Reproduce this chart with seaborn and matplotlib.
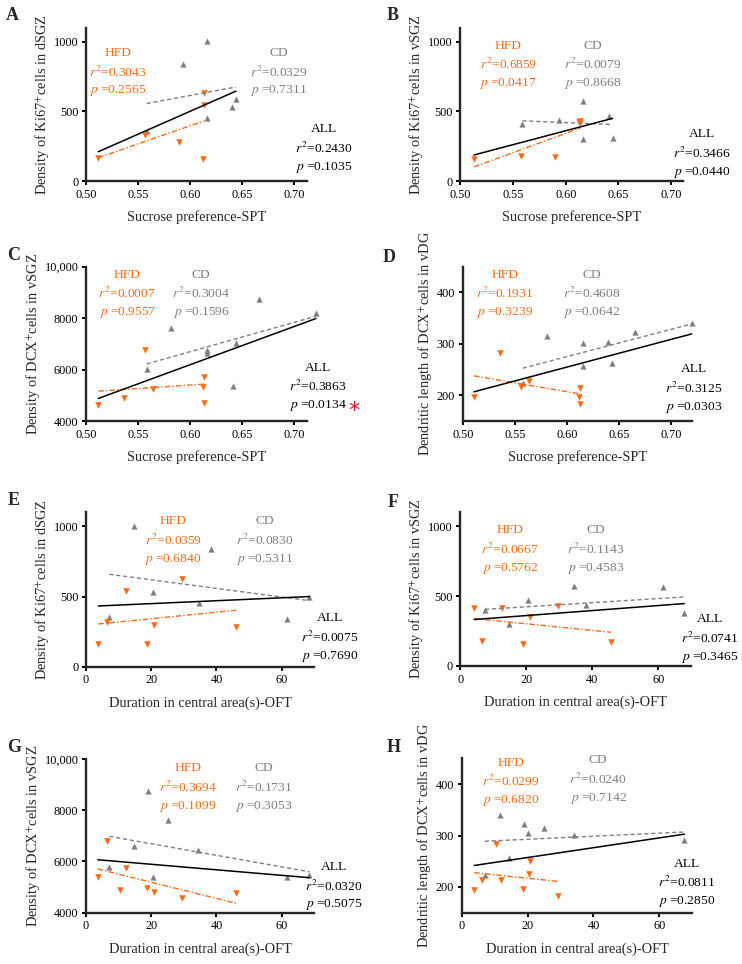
import numpy as np
import pandas as pd
import matplotlib
matplotlib.use("Agg")
import matplotlib.pyplot as plt
import seaborn as sns

ORANGE = "#FF6A13"
GRAY = "#7F7F7F"

# ---- data ----
# SPT panels (A-D)
A_cd_x = [0.5582, 0.5928, 0.6158, 0.6162, 0.6402, 0.6440]
A_cd_y = [361, 840, 1005, 454, 533, 589]
A_hfd_x = [0.5118, 0.5570, 0.5893, 0.6126, 0.6136, 0.6136]
A_hfd_y = [167, 328, 282, 160, 546, 634]

B_cd_x = [0.5589, 0.5934, 0.6161, 0.6165, 0.6408, 0.6445]
B_cd_y = [407, 438, 301, 572, 469, 311]
B_hfd_x = [0.5130, 0.5573, 0.5899, 0.6126, 0.6136, 0.6136]
B_hfd_y = [160, 179, 172, 422, 414, 431]

C_cd_x = [0.5582, 0.5819, 0.6165, 0.6165, 0.6408, 0.6443, 0.6663, 0.7208]
C_cd_y = [6033, 7604, 6760, 6632, 5372, 7044, 8732, 8187]
C_hfd_x = [0.5118, 0.5362, 0.5570, 0.5643, 0.6126, 0.6131, 0.6131]
C_hfd_y = [4622, 4894, 6760, 5244, 5334, 5699, 4712]

D_cd_x = [0.5576, 0.5810, 0.6152, 0.6155, 0.6395, 0.6433, 0.6657, 0.7198]
D_cd_y = [223, 315, 257, 302, 304, 263, 323, 340]
D_hfd_x = [0.5108, 0.5355, 0.5560, 0.5634, 0.6120, 0.6129, 0.6129]
D_hfd_y = [197, 283, 216, 227, 196, 215, 183]

# OFT panels (E-H)
E_cd_x = [7.15, 14.7, 20.4, 34.7, 38.3, 61.7, 68.5]
E_cd_y = [357, 1000, 529, 453, 838, 338, 496]
E_hfd_x = [3.8, 6.3, 12.3, 18.6, 20.9, 29.3, 46.0]
E_hfd_y = [160, 321, 541, 162, 298, 624, 281]

F_cd_x = [7.5, 14.8, 20.5, 34.5, 38.1, 61.4, 67.9]
F_cd_y = [402, 299, 469, 569, 438, 565, 378]
F_hfd_x = [4.2, 6.7, 12.5, 18.9, 21.2, 29.5, 45.7]
F_hfd_y = [414, 179, 414, 156, 354, 431, 170]

G_cd_x = [7.15, 14.6, 19.1, 20.4, 25.1, 34.4, 61.7, 68.5]
G_cd_y = [5796, 6604, 8752, 5382, 7620, 6448, 5406, 5472]
G_hfd_x = [3.6, 6.3, 10.4, 12.2, 18.6, 20.9, 29.3, 46.0]
G_hfd_y = [5406, 6800, 4886, 5734, 4953, 4797, 4562, 4781]

H_cd_x = [7.0, 11.7, 14.4, 18.8, 20.1, 24.9, 34.1, 67.6]
H_cd_y = [223, 340, 257, 323, 304, 314, 301, 291]
H_hfd_x = [3.8, 6.2, 10.4, 11.9, 18.5, 20.3, 20.7, 29.1]
H_hfd_y = [195, 214, 283, 214, 197, 226, 250, 183]

# stats printed on each panel: (r2, p) for HFD, CD, ALL
hfd_stats = [("0.3043", "0.2565"), ("0.6859", "0.0417"), ("0.0007", "0.9557"), ("0.1931", "0.3239"),
             ("0.0359", "0.6840"), ("0.0667", "0.5762"), ("0.3694", "0.1099"), ("0.0299", "0.6820")]
cd_stats = [("0.0329", "0.7311"), ("0.0079", "0.8668"), ("0.3004", "0.1596"), ("0.4608", "0.0642"),
            ("0.0830", "0.5311"), ("0.1143", "0.4583"), ("0.1731", "0.3053"), ("0.0240", "0.7142")]
all_stats = [("0.2430", "0.1035"), ("0.3466", "0.0440"), ("0.3863", "0.0134"), ("0.3125", "0.0303"),
             ("0.0075", "0.7690"), ("0.0741", "0.3465"), ("0.0320", "0.5075"), ("0.0811", "0.2850")]

letters = ["A", "B", "C", "D", "E", "F", "G", "H"]
xlabel_spt = "Sucrose preference-SPT"
xlabel_oft = "Duration in central area(s)-OFT"
ylabels = ["Density of Ki67$^{+}$cells in dSGZ", "Density of Ki67$^{+}$cells in vSGZ",
           "Density of DCX$^{+}$cells in vSGZ", "Dendritic length of DCX$^{+}$cells in vDG",
           "Density of Ki67$^{+}$cells in dSGZ", "Density of Ki67$^{+}$cells in vSGZ",
           "Density of DCX$^{+}$cells in vSGZ", "Dendritic length of DCX$^{+}$cells in vDG"]

spt_ticks = [0.50, 0.55, 0.60, 0.65, 0.70]
spt_ticklabels = ["0.50", "0.55", "0.60", "0.65", "0.70"]
oft_ticks = [0, 20, 40, 60]
ki67_ticks = [0, 500, 1000]
ki67_ticklabels = ["0", "500", "1000"]
dcx_ticks = [4000, 6000, 8000, 10000]
dcx_ticklabels = ["4000", "6000", "8000", "10,000"]
dend_ticks = [200, 300, 400]

sns.set_style("ticks")
plt.rcParams["font.family"] = ["Liberation Serif", "DejaVu Serif"]
plt.rcParams["mathtext.fontset"] = "stix"

W, H = 742, 964
fig = plt.figure(figsize=(W / 100, H / 100), dpi=100)

# axes boxes in pixels: left, top, width, height
boxes = [(86, 28, 220.8, 153), (460.3, 28, 222.4, 153),
         (86, 266.7, 220.8, 154.3), (462.7, 266.7, 229.2, 154.3),
         (86, 512.3, 228.3, 154.4), (460.3, 512.3, 231, 153.7),
         (86, 759, 228.3, 153.7), (461.7, 758.3, 230.6, 154.4)]
letter_pos = [(12, 15), (393, 15), (14, 256), (389, 258), (14, 500), (393, 502), (14, 747), (394, 747)]

data = [(A_cd_x, A_cd_y, A_hfd_x, A_hfd_y), (B_cd_x, B_cd_y, B_hfd_x, B_hfd_y),
        (C_cd_x, C_cd_y, C_hfd_x, C_hfd_y), (D_cd_x, D_cd_y, D_hfd_x, D_hfd_y),
        (E_cd_x, E_cd_y, E_hfd_x, E_hfd_y), (F_cd_x, F_cd_y, F_hfd_x, F_hfd_y),
        (G_cd_x, G_cd_y, G_hfd_x, G_hfd_y), (H_cd_x, H_cd_y, H_hfd_x, H_hfd_y)]

xlims = [(0.5, 0.712), (0.5, 0.711), (0.5, 0.712), (0.5, 0.72), (0, 70), (0, 70), (0, 70), (0, 70)]
ylims = [(0, 1100), (0, 1100), (4000, 10000), (150, 450), (0, 1100), (0, 1100), (4000, 10000), (150, 450)]

# text block anchors (axes fraction): centre x, baseline y of the title line
hfd_pos = [(0.145, 0.817), (0.214, 0.866), (0.186, 0.928), (0.185, 0.928),
           (0.381, 0.924), (0.215, 0.865), (0.447, 0.920), (0.214, 0.952)]
cd_pos = [(0.873, 0.817), (0.597, 0.866), (0.521, 0.928), (0.564, 0.928),
          (0.784, 0.924), (0.588, 0.865), (0.780, 0.920), (0.592, 0.967)]
all_pos = [(1.078, 0.318), (1.087, 0.285), (1.051, 0.326), (1.010, 0.317),
           (1.067, 0.294), (1.081, 0.284), (1.086, 0.278), (0.976, 0.298)]


def stat_block(ax, pos, title, r2, p, color):
    x, y = pos
    for txt, dy in [(title, 0), (f"$r^2$={r2}", -14.8), (f"$p$ ={p}", -27.0)]:
        ax.annotate(txt, xy=(x, y), xycoords="axes fraction", xytext=(0, dy),
                    textcoords="offset points", ha="center", va="baseline",
                    fontsize=9.7, color=color, annotation_clip=False)


for i in range(8):
    l, t, w, h = boxes[i]
    ax = fig.add_axes([l / W, 1 - (t + h) / H, w / W, h / H])
    cd_x, cd_y, hfd_x, hfd_y = data[i]

    sns.regplot(x=cd_x, y=cd_y, ax=ax, ci=None, truncate=True, color=GRAY, marker="^",
                scatter_kws=dict(s=20, alpha=1, linewidths=0, clip_on=False, zorder=2),
                line_kws=dict(lw=1.0, dashes=(3, 2), clip_on=False, zorder=3))
    sns.regplot(x=hfd_x, y=hfd_y, ax=ax, ci=None, truncate=True, color=ORANGE, marker="v",
                scatter_kws=dict(s=22, alpha=1, linewidths=0, clip_on=False, zorder=2),
                line_kws=dict(lw=1.0, dashes=(4, 1.5, 1, 1.5), clip_on=False, zorder=3))
    sns.regplot(x=cd_x + hfd_x, y=cd_y + hfd_y, ax=ax, ci=None, truncate=True,
                scatter=False, color="black", line_kws=dict(lw=1.1, clip_on=False, zorder=4))

    ax.set_xlim(*xlims[i])
    ax.set_ylim(*ylims[i])
    if i < 4:
        ax.set_xticks(spt_ticks, spt_ticklabels)
        ax.set_xlabel(xlabel_spt, fontsize=10.4, labelpad=7)
    else:
        ax.set_xticks(oft_ticks, [str(v) for v in oft_ticks])
        ax.set_xlabel(xlabel_oft, fontsize=10.4, labelpad=7)
    if i in (0, 1, 4, 5):
        ax.set_yticks(ki67_ticks, ki67_ticklabels)
    elif i in (2, 6):
        ax.set_yticks(dcx_ticks, dcx_ticklabels)
    else:
        ax.set_yticks(dend_ticks, [str(v) for v in dend_ticks])
    ax.set_ylabel(ylabels[i], fontsize=10.4, labelpad=2)

    sns.despine(ax=ax)
    for s in ("left", "bottom"):
        ax.spines[s].set_linewidth(1.7)
    ax.tick_params(width=1.4, length=3, labelsize=8.8, pad=2.5, colors="black")

    stat_block(ax, hfd_pos[i], "HFD", *hfd_stats[i], ORANGE)
    stat_block(ax, cd_pos[i], "CD", *cd_stats[i], GRAY)
    stat_block(ax, all_pos[i], "ALL", *all_stats[i], "black")

    if letters[i] == "C":
        ax.annotate("*", xy=all_pos[i], xycoords="axes fraction", xytext=(26, -33),
                    textcoords="offset points", ha="center", va="baseline",
                    fontsize=16, color="#E3141B", family="DejaVu Sans", annotation_clip=False)

    lx, ly = letter_pos[i]
    fig.text(lx / W, 1 - ly / H, letters[i], ha="center", va="center",
             fontsize=13, fontweight="bold")

fig.savefig("out.png", dpi=100)
